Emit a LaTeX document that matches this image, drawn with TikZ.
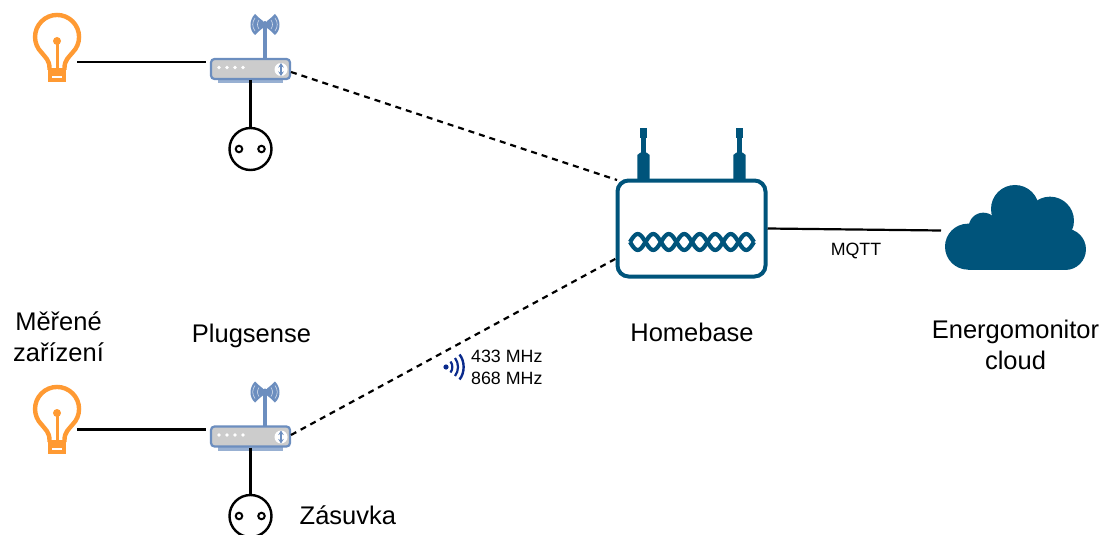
\documentclass[tikz,border=0pt]{standalone}
\usepackage{fontspec}
\usetikzlibrary{arrows.meta}
\setmainfont{Liberation Sans}
\definecolor{bulbor}{HTML}{FF9A33}
\definecolor{rblue}{HTML}{6C8EBF}
\definecolor{rgray}{HTML}{CCCCCC}
\definecolor{hbblue}{HTML}{00547B}
\definecolor{wifiblue}{HTML}{0A2A8C}
\tikzset{
  wire/.style={black,line width=2.2pt},
  dashwire/.style={black,line width=2.2pt,dash pattern=on 6pt off 5pt},
  biglabel/.style={font=\fontsize{25.5}{30.5}\selectfont,align=center,inner sep=0pt},
  smalllabel/.style={font=\fontsize{17.8}{22}\selectfont,align=left,inner sep=0pt},
  bulbline/.style={bulbor,line width=4.4pt},
  sockring/.style={circle,draw=black,line width=2.4pt,fill=white,minimum size=42pt,inner sep=0pt,outer sep=1pt},
  sockhole/.style={circle,draw=black,line width=2pt,fill=white,minimum size=6.5pt,inner sep=0pt},
  rbody/.style={rectangle,rounded corners=3.5pt,draw=rblue,line width=2.2pt,fill=rgray,minimum width=79pt,minimum height=20pt,inner sep=0pt,outer sep=1pt},
  hbbody/.style={rectangle,rounded corners=11pt,draw=hbblue,line width=4pt,fill=white,minimum width=148pt,minimum height=96pt,inner sep=0pt,outer sep=2pt},
}
\newcommand{\bulbicon}[1]{%
  \begin{scope}[shift={(0,#1)}]
    \draw[bulbline] (49.5,70) -- (49.5,68) .. controls (49.5,60) and (45,57) .. (41.5,52.5)
      arc[start angle=135,end angle=405,radius=22] .. controls (69,57) and (64.5,60) .. (64.5,68) -- (64.5,70);
    \fill[bulbor] (47.5,68) rectangle (66,82);
    \fill[white] (52,76) rectangle (61.5,78);
    \fill[bulbor] (57,41) circle[radius=4];
    \draw[bulbor,line width=3pt] (57,41) -- (57,70);
  \end{scope}}
\newcommand{\routericon}[2]{%
  \begin{scope}[shift={(0,#2)}]
    \fill[rblue!70!white] (218,78) rectangle (283,83.5);
    \draw[rblue,line width=3.6pt] (265,24) -- (265,59);
    \fill[rblue] (263,21) .. controls (259,18) and (257,16) .. (255,14) .. controls (249,20) and (249,30) .. (255,35) .. controls (257,33) and (260,30) .. (263,28) -- cycle;
    \fill[rblue] (267,21) .. controls (271,18) and (273,16) .. (275,14) .. controls (281,20) and (281,30) .. (275,35) .. controls (273,33) and (270,30) .. (267,28) -- cycle;
    \draw[white!70!rblue,line width=.6pt] (255,18) .. controls (252,22) and (252,27) .. (255,31) (259,20) .. controls (257,23) and (257,26) .. (259,29)
      (275,18) .. controls (278,22) and (278,27) .. (275,31) (271,20) .. controls (273,23) and (273,26) .. (271,29);
    \fill[rblue] (265,24) circle[radius=3];
    \node[rbody] (#1body) at (250.5,69) {};
    \foreach \dx in {219,227,235,243} \fill[white] (\dx,67.5) circle[radius=1.9];
    \fill[white] (281,69.5) circle[radius=6.5];
    \draw[rblue,line width=1.8pt,{Stealth[length=4.5pt,width=5.5pt]}-{Stealth[length=4.5pt,width=5.5pt]}] (281,63) -- (281,76);
    \coordinate (#1in) at (206,62);
    \coordinate (#1down) at (250.5,80);
  \end{scope}}
\begin{document}
\begin{tikzpicture}[x=1pt,y=-1pt]
\useasboundingbox (0,0) rectangle (1104,535);
% bulbs
\bulbicon{0}
\bulbicon{372}
\coordinate (b1) at (77,62);
\coordinate (b2) at (77,429.5);
% routers
\routericon{ra}{0}
\routericon{rb}{367.5}
\coordinate (raout) at (291,72);
\coordinate (rbout) at (291,435);
% sockets
\node[sockring] (s1) at (250.5,149) {};
\node[sockhole] (s1l) at (239,149) {};
\node[sockhole] (s1r) at (261.5,149) {};
\node[sockring] (s2) at (250.5,516) {};
\node[sockhole] (s2l) at (239,516) {};
\node[sockhole] (s2r) at (261.5,516) {};
% homebase
\foreach \ax in {643.5,739.5}{
  \fill[hbblue] (\ax-6.2,180) -- (\ax-6.2,155) -- (\ax-3,152.5) -- (\ax+3,152.5) -- (\ax+6.2,155) -- (\ax+6.2,180) -- cycle;
  \fill[hbblue] (\ax-2.5,135) rectangle (\ax+2.5,154);
  \fill[hbblue] (\ax-3.7,128) rectangle (\ax+3.7,137.5);
}
\node[hbbody] (hb) at (691.5,228.5) {};
\coordinate (hbup) at (617,180);
\coordinate (hblow) at (617,258);
\draw[hbblue,line width=4.2pt] plot[domain=0:8,samples=97,smooth] ({630+15.5*\x},{242+8*sin(180*\x)});
\draw[hbblue,line width=4.2pt] plot[domain=0:8,samples=97,smooth] ({630+15.5*\x},{242-8*sin(180*\x)});
% cloud
\begin{scope}[shift={(920,170)},x=0.3333pt,y=-0.3333pt]
  \fill[hbblue] (285,117) circle[radius=72];
  \fill[hbblue] (390,152) circle[radius=72];
  \fill[hbblue] (190,172) circle[radius=44];
  \fill[hbblue] (144,230) circle[radius=69];
  \fill[hbblue] (436,238) circle[radius=62];
  \fill[hbblue] (144,180) rectangle (436,299);
  \fill[hbblue] (215,115) rectangle (440,200);
\end{scope}
\coordinate (cl) at (941,230.5);
% connectors
\draw[wire] (b1) -- (rain);
\draw[wire] (b2) -- (rbin);
\draw[wire] (radown) -- (s1);
\draw[wire] (rbdown) -- (s2);
\draw[dashwire] (raout) -- (hbup);
\draw[dashwire] (rbout) -- (hblow);
\draw[wire] (hb.east) -- (cl);
% wifi
\fill[wifiblue] (446,367) circle[radius=2.6];
\draw[wifiblue,line width=2.2pt] (450.5,361.5) .. controls (453,365) and (453,369) .. (450.5,372.5);
\draw[wifiblue,line width=2.2pt] (455,358) .. controls (459,363) and (459,371) .. (455,376);
\draw[wifiblue,line width=2.4pt] (459.5,354.5) .. controls (465,361) and (465,373) .. (459.5,379.5);
% labels
\node[biglabel] (t1) at (58.5,336.5) {Měřené\\zařízení};
\node[biglabel] (t2) at (251.5,336) {Plugsense};
\node[biglabel] (t3) at (692,332) {Homebase};
\node[biglabel] (t4) at (1015.5,345) {Energomonitor\\cloud};
\node[biglabel,anchor=west] (t5) at (299.5,515) {Zásuvka};
\node[smalllabel] (t6) at (856,250.5) {MQTT};
\node[smalllabel,anchor=west] (t7) at (471,367) {433 MHz\\868 MHz};
\end{tikzpicture}
\end{document}
